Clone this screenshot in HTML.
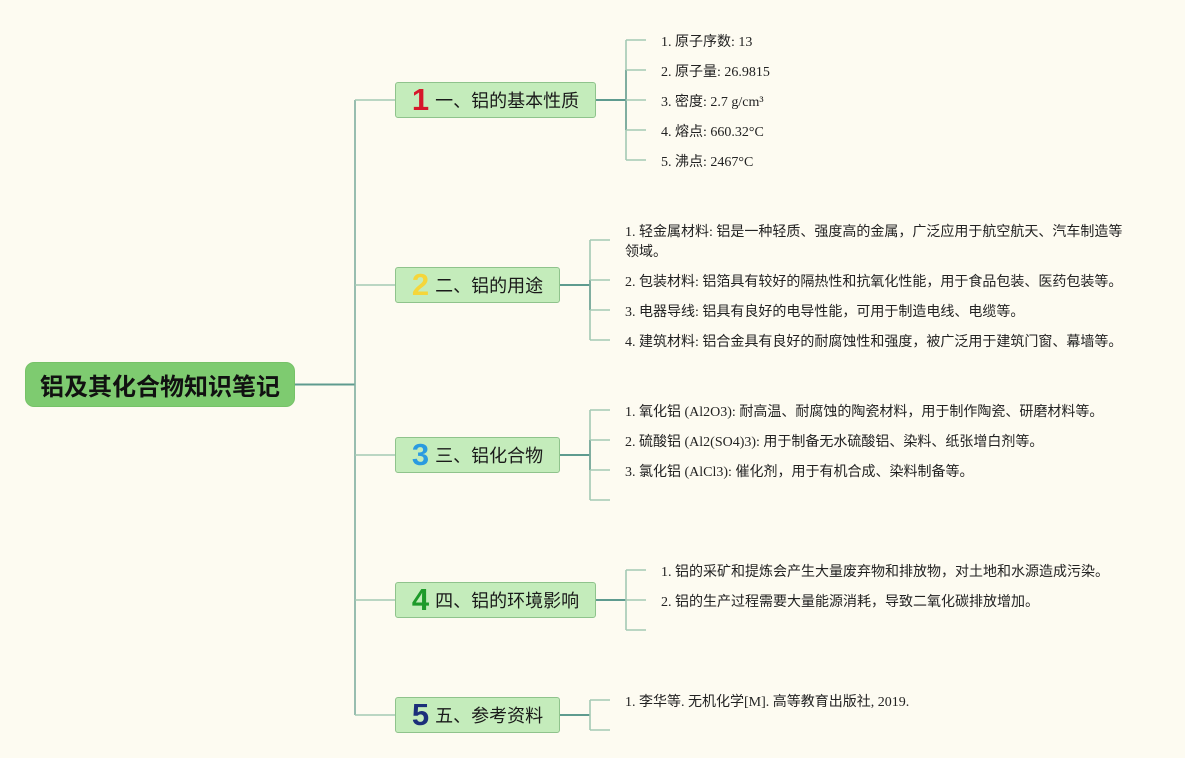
<!DOCTYPE html>
<html><head><meta charset="utf-8">
<style>
html,body{margin:0;padding:0;}
body{width:1185px;height:758px;position:relative;overflow:hidden;background:#fdfbf1;}
.root{position:absolute;left:25px;top:362px;width:270px;height:45px;background:#7ecb70;border-radius:9px;box-sizing:border-box;border:1px solid #76c268;
 font:bold 24px "Liberation Sans","Noto Sans CJK SC",sans-serif;color:#111;display:flex;align-items:center;justify-content:center;letter-spacing:0px;}
.br{position:absolute;height:36px;background:#c4ecbb;border:1px solid #8fc38c;box-sizing:border-box;border-radius:3px;
 font:18px "Liberation Sans","Noto Sans CJK SC",sans-serif;color:#1a1a1a;display:flex;align-items:center;justify-content:center;}
.num{font:bold 31px "Liberation Sans","DejaVu Sans",sans-serif;margin-right:6px;line-height:36px;}
.t{position:absolute;font:14px "Liberation Serif","Noto Sans CJK SC",serif;color:#222;line-height:20px;white-space:nowrap;}
</style></head><body>
<svg width="1185" height="758" style="position:absolute;left:0;top:0">
 <g fill="none" stroke-width="1.6">
  <line x1="295" y1="384.5" x2="355" y2="384.5" stroke="#5e9b8f" stroke-width="2"/>
  <line x1="355" y1="100" x2="355" y2="715" stroke="#7fae9f"/>
  <line x1="355" y1="100" x2="395" y2="100" stroke="#a3c9b4"/>
  <line x1="355" y1="285" x2="395" y2="285" stroke="#a3c9b4"/>
  <line x1="355" y1="455" x2="395" y2="455" stroke="#a3c9b4"/>
  <line x1="355" y1="600" x2="395" y2="600" stroke="#a3c9b4"/>
  <line x1="355" y1="715" x2="395" y2="715" stroke="#a3c9b4"/>
  <line x1="596" y1="100" x2="626" y2="100" stroke="#5e9b8f" stroke-width="2"/>
  <line x1="626" y1="40" x2="626" y2="160" stroke="#a3c9b4"/>
  <line x1="626" y1="70" x2="626" y2="130" stroke="#6fa396"/>
  <line x1="626" y1="40" x2="646" y2="40" stroke="#a3c9b4"/>
  <line x1="626" y1="70" x2="646" y2="70" stroke="#a3c9b4"/>
  <line x1="626" y1="100" x2="646" y2="100" stroke="#a3c9b4"/>
  <line x1="626" y1="130" x2="646" y2="130" stroke="#a3c9b4"/>
  <line x1="626" y1="160" x2="646" y2="160" stroke="#a3c9b4"/>
  <line x1="560" y1="285" x2="590" y2="285" stroke="#5e9b8f" stroke-width="2"/>
  <line x1="590" y1="240" x2="590" y2="340" stroke="#a3c9b4"/>
  <line x1="590" y1="280" x2="590" y2="310" stroke="#6fa396"/>
  <line x1="590" y1="240" x2="610" y2="240" stroke="#a3c9b4"/>
  <line x1="590" y1="280" x2="610" y2="280" stroke="#a3c9b4"/>
  <line x1="590" y1="310" x2="610" y2="310" stroke="#a3c9b4"/>
  <line x1="590" y1="340" x2="610" y2="340" stroke="#a3c9b4"/>
  <line x1="560" y1="455" x2="590" y2="455" stroke="#5e9b8f" stroke-width="2"/>
  <line x1="590" y1="410" x2="590" y2="500" stroke="#a3c9b4"/>
  <line x1="590" y1="440" x2="590" y2="470" stroke="#6fa396"/>
  <line x1="590" y1="410" x2="610" y2="410" stroke="#a3c9b4"/>
  <line x1="590" y1="440" x2="610" y2="440" stroke="#a3c9b4"/>
  <line x1="590" y1="470" x2="610" y2="470" stroke="#a3c9b4"/>
  <line x1="590" y1="500" x2="610" y2="500" stroke="#a3c9b4"/>
  <line x1="596" y1="600" x2="626" y2="600" stroke="#5e9b8f" stroke-width="2"/>
  <line x1="626" y1="570" x2="626" y2="630" stroke="#a3c9b4"/>
  <line x1="626" y1="570" x2="646" y2="570" stroke="#a3c9b4"/>
  <line x1="626" y1="600" x2="646" y2="600" stroke="#a3c9b4"/>
  <line x1="626" y1="630" x2="646" y2="630" stroke="#a3c9b4"/>
  <line x1="560" y1="715" x2="590" y2="715" stroke="#5e9b8f" stroke-width="2"/>
  <line x1="590" y1="700" x2="590" y2="730" stroke="#a3c9b4"/>
  <line x1="590" y1="700" x2="610" y2="700" stroke="#a3c9b4"/>
  <line x1="590" y1="730" x2="610" y2="730" stroke="#a3c9b4"/>
 </g>
</svg>

<div class="root">铝及其化合物知识笔记</div>

<div class="br" style="left:395px;top:82px;width:201px;"><span class="num" style="color:#d6172a">1</span>一、铝的基本性质</div>
<div class="br" style="left:395px;top:267px;width:165px;"><span class="num" style="color:#f5d63a">2</span>二、铝的用途</div>
<div class="br" style="left:395px;top:437px;width:165px;"><span class="num" style="color:#2a9be0">3</span>三、铝化合物</div>
<div class="br" style="left:395px;top:582px;width:201px;"><span class="num" style="color:#1e9a2a">4</span>四、铝的环境影响</div>
<div class="br" style="left:395px;top:697px;width:165px;"><span class="num" style="color:#1b2f7a">5</span>五、参考资料</div>

<div class="t" style="left:661px;top:33px;">1. 原子序数: 13</div>
<div class="t" style="left:661px;top:63px;">2. 原子量: 26.9815</div>
<div class="t" style="left:661px;top:93px;">3. 密度: 2.7 g/cm³</div>
<div class="t" style="left:661px;top:123px;">4. 熔点: 660.32°C</div>
<div class="t" style="left:661px;top:153px;">5. 沸点: 2467°C</div>

<div class="t" style="left:625px;top:223px;">1. 轻金属材料: 铝是一种轻质、强度高的金属，广泛应用于航空航天、汽车制造等<br>领域。</div>
<div class="t" style="left:625px;top:273px;">2. 包装材料: 铝箔具有较好的隔热性和抗氧化性能，用于食品包装、医药包装等。</div>
<div class="t" style="left:625px;top:303px;">3. 电器导线: 铝具有良好的电导性能，可用于制造电线、电缆等。</div>
<div class="t" style="left:625px;top:333px;">4. 建筑材料: 铝合金具有良好的耐腐蚀性和强度，被广泛用于建筑门窗、幕墙等。</div>

<div class="t" style="left:625px;top:403px;">1. 氧化铝 (Al2O3): 耐高温、耐腐蚀的陶瓷材料，用于制作陶瓷、研磨材料等。</div>
<div class="t" style="left:625px;top:433px;">2. 硫酸铝 (Al2(SO4)3): 用于制备无水硫酸铝、染料、纸张增白剂等。</div>
<div class="t" style="left:625px;top:463px;">3. 氯化铝 (AlCl3): 催化剂，用于有机合成、染料制备等。</div>

<div class="t" style="left:661px;top:563px;">1. 铝的采矿和提炼会产生大量废弃物和排放物，对土地和水源造成污染。</div>
<div class="t" style="left:661px;top:593px;">2. 铝的生产过程需要大量能源消耗，导致二氧化碳排放增加。</div>

<div class="t" style="left:625px;top:693px;">1. 李华等. 无机化学[M]. 高等教育出版社, 2019.</div>
</body></html>
